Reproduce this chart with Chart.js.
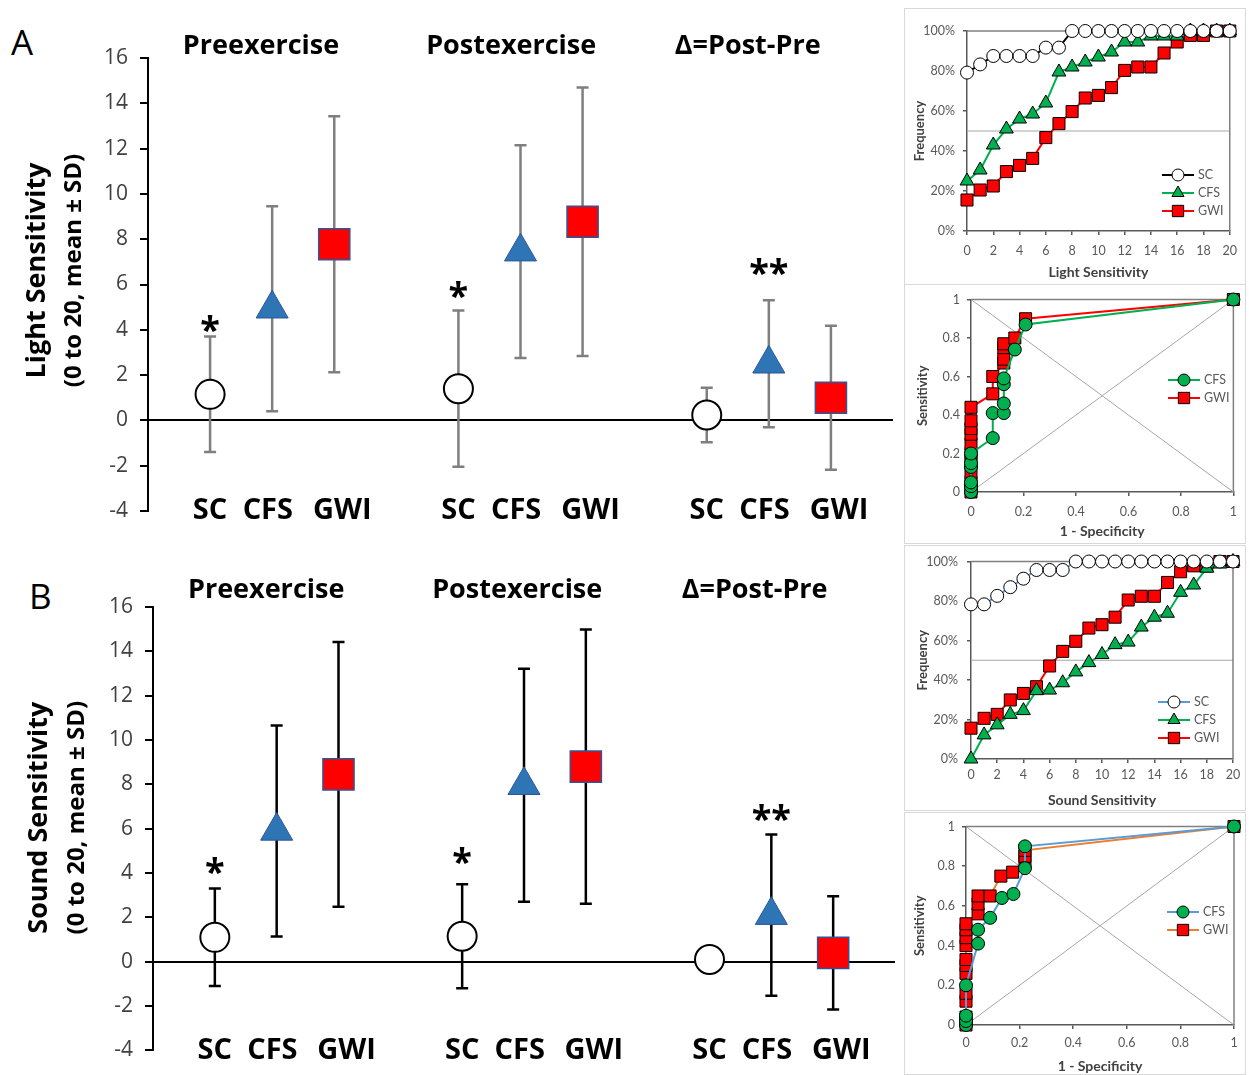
<!DOCTYPE html>
<html>
<head>
<meta charset="utf-8">
<script src="https://cdn.jsdelivr.net/npm/chart.js@4.4.1/dist/chart.umd.min.js"></script>
<style>
  body { margin: 0; background: #fff; width: 1249px; height: 1075px; position: relative; overflow: hidden; font-family: "Open Sans", sans-serif; }
  canvas { position: absolute; }
  .frame { position: absolute; border: 1px solid #d9d9d9; box-sizing: border-box; }
  .letter { position: absolute; font: 35px "Open Sans", sans-serif; color: #000; }
</style>
</head>
<body>
<div class="letter" style="left:11px;top:18px">A</div>
<div class="letter" style="left:29px;top:572px">B</div>
<canvas id="mainA" width="900" height="540" style="left:0;top:0"></canvas>
<canvas id="mainB" width="900" height="530" style="left:0;top:545px"></canvas>
<div class="frame" style="left:904px;top:8px;width:342px;height:277px"></div>
<div class="frame" style="left:904px;top:284px;width:342px;height:260px"></div>
<div class="frame" style="left:904px;top:545px;width:342px;height:266px"></div>
<div class="frame" style="left:904px;top:812px;width:342px;height:263px"></div>
<canvas id="cdfLight" width="340" height="275" style="left:905px;top:10px"></canvas>
<canvas id="rocLight" width="340" height="258" style="left:905px;top:285px"></canvas>
<canvas id="cdfSound" width="340" height="265" style="left:905px;top:545px"></canvas>
<canvas id="rocSound" width="340" height="263" style="left:905px;top:812px"></canvas>
<script>
const groups = ["SC", "CFS", "GWI"];
const phases = ["Preexercise", "Postexercise", "Δ=Post-Pre"];
const groupX = [[1, 5, 9], [2, 6, 10], [3, 7, 11]];

// panel A, light sensitivity (pre, post, delta)
const lightSC = [1.15, 1.4, 0.24];
const lightSCsd = [2.55, 3.45, 1.2];
const lightCFS = [4.93, 7.45, 2.5];
const lightCFSsd = [4.53, 4.7, 2.8];
const lightGWI = [7.78, 8.77, 1.0];
const lightGWIsd = [5.65, 5.93, 3.18];
const lightStars = ["*", "*", "**"];
const lightStarX = [1, 5, 10];
const lightStarY = [4.35, 5.85, 6.85];

// panel B, sound sensitivity
const soundSC = [1.1, 1.15, 0.1];
const soundSCsd = [2.2, 2.35, 0.4];
const soundCFS = [5.9, 7.96, 2.1];
const soundCFSsd = [4.76, 5.26, 3.64];
const soundGWI = [8.45, 8.8, 0.4];
const soundGWIsd = [5.97, 6.18, 2.55];
const soundStars = ["*", "*", "**"];
const soundStarX = [1, 5, 10];
const soundStarY = [4.4, 4.85, 6.8];

// cumulative frequency (%), scores 0..20
const scores = [0, 1, 2, 3, 4, 5, 6, 7, 8, 9, 10, 11, 12, 13, 14, 15, 16, 17, 18, 19, 20];
const lightCdfSC = [79.2, 83.3, 87.5, 87.5, 87.5, 87.5, 91.7, 91.7, 100, 100, 100, 100, 100, 100, 100, 100, 100, 100, 100, 100, 100];
const lightCdfCFS = [25, 30.5, 43, 51, 56, 58.5, 64, 79.5, 82, 84.5, 87, 89.5, 94.5, 94.5, 97.5, 97.5, 97.5, 100, 100, 100, 100];
const lightCdfGWI = [15.5, 20.5, 22.5, 29.7, 32.8, 36.3, 46.7, 53.7, 59.7, 66.5, 67.8, 71.7, 80.3, 82, 82, 89, 94.5, 97.8, 97.8, 100, 100];
const soundCdfSC = [78.3, 78.3, 82.6, 87, 91.3, 95.7, 95.7, 95.7, 100, 100, 100, 100, 100, 100, 100, 100, 100, 100, 100, 100, 100];
const soundCdfCFS = [0, 12.2, 17.3, 22.6, 24.5, 34.6, 34.9, 38.6, 44.1, 48.8, 52.9, 57.9, 59.2, 66.8, 71.8, 73.8, 84.4, 88.1, 96.6, 98.7, 100];
const soundCdfGWI = [15.6, 20.6, 22.6, 29.9, 33.2, 36.6, 47.1, 54.5, 59.6, 66.3, 68, 71.8, 80.5, 82.4, 82.4, 89.4, 94.8, 97.8, 97.8, 100, 100];
const halfLevel = 50;

// ROC curves (1 - specificity, sensitivity)
const lightRocCfsX = [0, 0, 0, 0, 0, 0, 0.083, 0.083, 0.125, 0.125, 0.125, 0.125, 0.167, 0.208, 1];
const lightRocCfsY = [0, 0.03, 0.05, 0.13, 0.15, 0.2, 0.28, 0.41, 0.41, 0.46, 0.56, 0.59, 0.74, 0.87, 1];
const lightRocGwiX = [0, 0, 0, 0, 0, 0, 0, 0, 0, 0, 0, 0.083, 0.083, 0.125, 0.125, 0.125, 0.125, 0.167, 0.208, 1];
const lightRocGwiY = [0, 0.02, 0.05, 0.1, 0.17, 0.2, 0.25, 0.3, 0.33, 0.37, 0.44, 0.51, 0.6, 0.67, 0.69, 0.75, 0.77, 0.8, 0.9, 1];
const soundRocCfsX = [0, 0, 0, 0, 0.045, 0.045, 0.09, 0.134, 0.177, 0.22, 0.22, 1];
const soundRocCfsY = [0, 0.02, 0.047, 0.2, 0.41, 0.48, 0.54, 0.64, 0.66, 0.79, 0.9, 1];
const soundRocGwiX = [0, 0, 0, 0, 0, 0, 0, 0, 0, 0, 0, 0, 0.045, 0.045, 0.045, 0.09, 0.13, 0.174, 0.22, 0.22, 0.22, 1];
const soundRocGwiY = [0, 0.02, 0.04, 0.12, 0.16, 0.26, 0.3, 0.33, 0.4, 0.44, 0.48, 0.51, 0.56, 0.61, 0.65, 0.65, 0.75, 0.77, 0.82, 0.85, 0.88, 1];

const FONT = "'Open Sans', sans-serif";
const SMALL_FONT = "Lato, sans-serif";
Chart.defaults.font.family = SMALL_FONT;
Chart.defaults.animation = false;

// group labels under the axis sit a little off the marker centres
const labelShift = [0, -0.07, 0.13];

function makeMain(id, o) {
  const means = [o.sc, o.cfs, o.gwi];
  const sds = [o.scSd, o.cfsSd, o.gwiSd];
  const marks = [
    { style: "circle", r: 14.5, bg: "#ffffff", line: "#000000", w: 2 },
    { style: "triangle", r: 18.5, bg: "#2E75B6", line: "#2F5597", w: 1 },
    { style: "rect", r: 22, bg: "#FF0000", line: "#2F5597", w: 1.5 }
  ];

  const errorBars = {
    id: "errorBars",
    beforeDatasetsDraw(chart) {
      const { ctx, scales: { x, y } } = chart;
      ctx.save();
      ctx.strokeStyle = o.barColor;
      ctx.lineWidth = 2.5;
      means.forEach((arr, i) => arr.forEach((m, j) => {
        const px = x.getPixelForValue(groupX[i][j]);
        const top = y.getPixelForValue(m + sds[i][j]);
        const bot = y.getPixelForValue(m - sds[i][j]);
        ctx.beginPath();
        ctx.moveTo(px, top); ctx.lineTo(px, bot);
        ctx.moveTo(px - 6, top); ctx.lineTo(px + 6, top);
        ctx.moveTo(px - 6, bot); ctx.lineTo(px + 6, bot);
        ctx.stroke();
      }));
      ctx.restore();
    }
  };

  const texts = {
    id: "texts",
    afterDraw(chart) {
      const { ctx, chartArea, scales: { x, y } } = chart;
      const mid = (chartArea.top + chartArea.bottom) / 2 + o.titleShift;
      ctx.save();
      ctx.fillStyle = "#000";
      ctx.textAlign = "center";
      ctx.textBaseline = "middle";

      ctx.save();
      ctx.translate(o.titleX1, mid);
      ctx.rotate(-Math.PI / 2);
      ctx.font = "bold 27px " + FONT;
      ctx.fillText(o.title, 0, 0);
      ctx.restore();
      ctx.save();
      ctx.translate(o.titleX2, mid);
      ctx.rotate(-Math.PI / 2);
      ctx.font = "bold 24px " + FONT;
      ctx.fillText("(0 to 20, mean ± SD)", 0, 0);
      ctx.restore();

      ctx.font = "bold 27px " + FONT;
      phases.forEach((p, k) => {
        ctx.fillText(p, x.getPixelForValue(o.phaseX[k]), o.phaseY);
      });

      ctx.font = "bold 29px " + FONT;
      const labelY = y.getPixelForValue(-4);
      groups.forEach((g, i) => groupX[i].forEach(v => {
        ctx.fillText(g, x.getPixelForValue(v + labelShift[i]), labelY);
      }));

      const starSize = 36;
      ctx.font = "bold " + starSize + "px " + FONT;
      ctx.textBaseline = "alphabetic";
      o.stars.forEach((s, k) => {
        ctx.fillText(s, x.getPixelForValue(o.starX[k]), y.getPixelForValue(o.starY[k]) + starSize * 0.56);
      });
      ctx.restore();
    }
  };

  return new Chart(document.getElementById(id), {
    type: "scatter",
    data: {
      datasets: groups.map((g, i) => ({
        label: g,
        data: means[i].map((m, j) => ({ x: groupX[i][j], y: m })),
        pointStyle: marks[i].style,
        pointRadius: marks[i].r,
        pointHoverRadius: marks[i].r,
        backgroundColor: marks[i].bg,
        borderColor: marks[i].line,
        borderWidth: marks[i].w
      }))
    },
    options: {
      responsive: false,
      layout: { padding: o.padding, autoPadding: false },
      plugins: { legend: { display: false }, tooltip: { enabled: false } },
      scales: {
        x: { type: "linear", min: 0, max: 12, display: false },
        y: {
          min: -4,
          max: 16,
          afterFit: s => { s.width = o.axisLeft; },
          ticks: { stepSize: 2, color: "#404040", font: { size: 21, family: FONT }, padding: 12 },
          grid: {
            color: c => (c.tick && c.tick.value === 0 ? "#000" : "transparent"),
            lineWidth: 2,
            tickColor: "#000",
            tickLength: 8
          },
          border: { color: "#000", width: 2 }
        }
      }
    },
    plugins: [errorBars, texts]
  });
}

makeMain("mainA", {
  sc: lightSC, cfs: lightCFS, gwi: lightGWI,
  scSd: lightSCsd, cfsSd: lightCFSsd, gwiSd: lightGWIsd,
  stars: lightStars, starX: lightStarX, starY: lightStarY,
  barColor: "#7f7f7f",
  title: "Light Sensitivity",
  titleX1: 37, titleX2: 74, titleShift: -14,
  phaseX: [1.82, 5.85, 9.66], phaseY: 46,
  axisLeft: 148,
  padding: { top: 58, bottom: 29, right: 7, left: 0 }
});

makeMain("mainB", {
  sc: soundSC, cfs: soundCFS, gwi: soundGWI,
  scSd: soundSCsd, cfsSd: soundCFSsd, gwiSd: soundGWIsd,
  stars: soundStars, starX: soundStarX, starY: soundStarY,
  barColor: "#000000",
  title: "Sound Sensitivity",
  titleX1: 39, titleX2: 77, titleShift: -11,
  phaseX: [1.83, 5.89, 9.73], phaseY: 45,
  axisLeft: 153,
  padding: { top: 62, bottom: 24, right: 5, left: 0 }
});

function legendPlugin(items, lx, ly, gap) {
  return {
    id: "customLegend",
    afterDraw(chart) {
      const ctx = chart.ctx;
      ctx.save();
      items.forEach((it, k) => {
        const y = ly + k * gap;
        ctx.strokeStyle = it.line;
        ctx.lineWidth = 2;
        ctx.beginPath();
        ctx.moveTo(lx, y); ctx.lineTo(lx + 32, y);
        ctx.stroke();
        ctx.fillStyle = it.bg;
        ctx.strokeStyle = "#000";
        ctx.lineWidth = 1;
        Chart.helpers.drawPoint(ctx, { pointStyle: it.style, radius: it.r, borderWidth: 1, rotation: 0 }, lx + 16, y);
        ctx.fillStyle = "#595959";
        ctx.font = "12.5px " + SMALL_FONT;
        ctx.textAlign = "left";
        ctx.textBaseline = "middle";
        ctx.fillText(it.label, lx + 36, y);
      });
      ctx.restore();
    }
  };
}

const frameBox = {
  id: "frameBox",
  beforeDatasetsDraw(chart) {
    const { ctx, chartArea: a } = chart;
    ctx.save();
    ctx.strokeStyle = "#a6a6a6";
    ctx.lineWidth = 1;
    ctx.beginPath();
    if (chart.options.plugins.frameBox.half) {
      const py = chart.scales.y.getPixelForValue(halfLevel);
      ctx.moveTo(a.left, py); ctx.lineTo(a.right, py);
    } else {
      ctx.moveTo(a.left, a.top); ctx.lineTo(a.right, a.bottom);
      ctx.moveTo(a.left, a.bottom); ctx.lineTo(a.right, a.top);
    }
    ctx.stroke();
    ctx.strokeStyle = "#808080";
    ctx.lineWidth = 1.5;
    ctx.beginPath();
    ctx.moveTo(a.left, a.top); ctx.lineTo(a.right, a.top); ctx.lineTo(a.right, a.bottom);
    ctx.stroke();
    ctx.restore();
  }
};

function series(label, xs, ys, line, bg, style, r) {
  return {
    label,
    data: xs.map((v, i) => ({ x: v, y: ys[i] })),
    showLine: true,
    clip: false,
    borderColor: line,
    borderWidth: 2,
    pointStyle: style,
    pointRadius: r,
    pointHoverRadius: r,
    pointBackgroundColor: bg,
    pointBorderColor: "#000",
    pointBorderWidth: 1
  };
}

function makeSmall(id, o) {
  const roc = o.kind === "roc";
  const tickFmt = v => (v === 0 || v === 1 ? String(v) : v.toFixed(1));
  const axisGrid = { drawOnChartArea: false, color: "#595959", tickLength: 4, lineWidth: 1.5 };
  return new Chart(document.getElementById(id), {
    type: "scatter",
    data: { datasets: o.datasets },
    options: {
      responsive: false,
      layout: { padding: { top: o.top, right: o.right, bottom: 0, left: 0 }, autoPadding: false },
      plugins: { legend: { display: false }, tooltip: { enabled: false }, frameBox: { half: !roc } },
      scales: {
        x: {
          type: "linear",
          min: 0,
          max: roc ? 1 : 20,
          afterFit: s => { s.height = o.xHeight; },
          ticks: {
            stepSize: roc ? 0.2 : 2,
            color: "#595959",
            font: { size: 12.5 },
            padding: o.xPad,
            maxRotation: 0,
            callback: v => (roc ? tickFmt(v) : String(v))
          },
          grid: axisGrid,
          border: { color: "#595959", width: 1.5 },
          title: { display: true, text: o.xTitle, color: "#404040", font: { size: 14, weight: "bold" }, padding: { top: 0, bottom: o.xTitlePad } }
        },
        y: {
          min: 0,
          max: roc ? 1 : 100,
          afterFit: s => { s.width = o.left; },
          ticks: {
            stepSize: roc ? 0.2 : 20,
            color: "#595959",
            font: { size: 12.5 },
            padding: o.yPad,
            callback: v => (roc ? tickFmt(v) : v + "%")
          },
          grid: axisGrid,
          border: { color: "#595959", width: 1.5 },
          title: { display: true, text: o.yTitle, color: "#404040", font: { size: 13, weight: "bold" }, padding: { top: o.yTitlePad, bottom: 0 } }
        }
      }
    },
    plugins: [frameBox, legendPlugin(o.legend, o.lx, o.ly, o.gap)]
  });
}

makeSmall("cdfLight", {
  kind: "cdf",
  datasets: [
    series("SC", scores, lightCdfSC, "#000000", "#ffffff", "circle", 6.5),
    series("CFS", scores, lightCdfCFS, "#00B050", "#00B050", "triangle", 8),
    series("GWI", scores, lightCdfGWI, "#FF0000", "#FF0000", "rect", 8.5)
  ],
  legend: [
    { label: "SC", line: "#000000", bg: "#ffffff", style: "circle", r: 6 },
    { label: "CFS", line: "#00B050", bg: "#00B050", style: "triangle", r: 7 },
    { label: "GWI", line: "#FF0000", bg: "#FF0000", style: "rect", r: 8 }
  ],
  lx: 257, ly: 165, gap: 18,
  left: 62, top: 21, right: 10, xHeight: 54,
  xPad: 8, yPad: 8, xTitlePad: 4, yTitlePad: 7,
  xTitle: "Light Sensitivity", yTitle: "Frequency"
});

makeSmall("rocLight", {
  kind: "roc",
  datasets: [
    series("CFS", lightRocCfsX, lightRocCfsY, "#00B050", "#00B050", "circle", 6.5),
    series("GWI", lightRocGwiX, lightRocGwiY, "#FF0000", "#FF0000", "rect", 8.5)
  ],
  legend: [
    { label: "CFS", line: "#00B050", bg: "#00B050", style: "circle", r: 6 },
    { label: "GWI", line: "#FF0000", bg: "#FF0000", style: "rect", r: 8 }
  ],
  lx: 263, ly: 95, gap: 18,
  left: 66, top: 7, right: 11, xHeight: 51,
  xPad: 8, yPad: 7, xTitlePad: 3, yTitlePad: 10,
  xTitle: "1 - Specificity", yTitle: "Sensitivity"
});

makeSmall("cdfSound", {
  kind: "cdf",
  datasets: [
    series("SC", scores, soundCdfSC, "#5B9BD5", "#ffffff", "circle", 6.5),
    series("CFS", scores, soundCdfCFS, "#00B050", "#00B050", "triangle", 8),
    series("GWI", scores, soundCdfGWI, "#FF0000", "#FF0000", "rect", 8.5)
  ],
  legend: [
    { label: "SC", line: "#5B9BD5", bg: "#ffffff", style: "circle", r: 6 },
    { label: "CFS", line: "#00B050", bg: "#00B050", style: "triangle", r: 7 },
    { label: "GWI", line: "#FF0000", bg: "#FF0000", style: "rect", r: 8 }
  ],
  lx: 253, ly: 157, gap: 18,
  left: 66, top: 16, right: 12, xHeight: 51,
  xPad: 4, yPad: 9, xTitlePad: 1, yTitlePad: 10,
  xTitle: "Sound Sensitivity", yTitle: "Frequency"
});

makeSmall("rocSound", {
  kind: "roc",
  datasets: [
    series("CFS", soundRocCfsX, soundRocCfsY, "#5B9BD5", "#00B050", "circle", 6.5),
    series("GWI", soundRocGwiX, soundRocGwiY, "#ED7D31", "#FF0000", "rect", 8.5)
  ],
  legend: [
    { label: "CFS", line: "#5B9BD5", bg: "#00B050", style: "circle", r: 6 },
    { label: "GWI", line: "#ED7D31", bg: "#FF0000", style: "rect", r: 8 }
  ],
  lx: 262, ly: 100, gap: 18,
  left: 61, top: 13, right: 11, xHeight: 50,
  xPad: 6, yPad: 7, xTitlePad: 0, yTitlePad: 7,
  xTitle: "1 - Specificity", yTitle: "Sensitivity"
});
</script>
</body>
</html>
